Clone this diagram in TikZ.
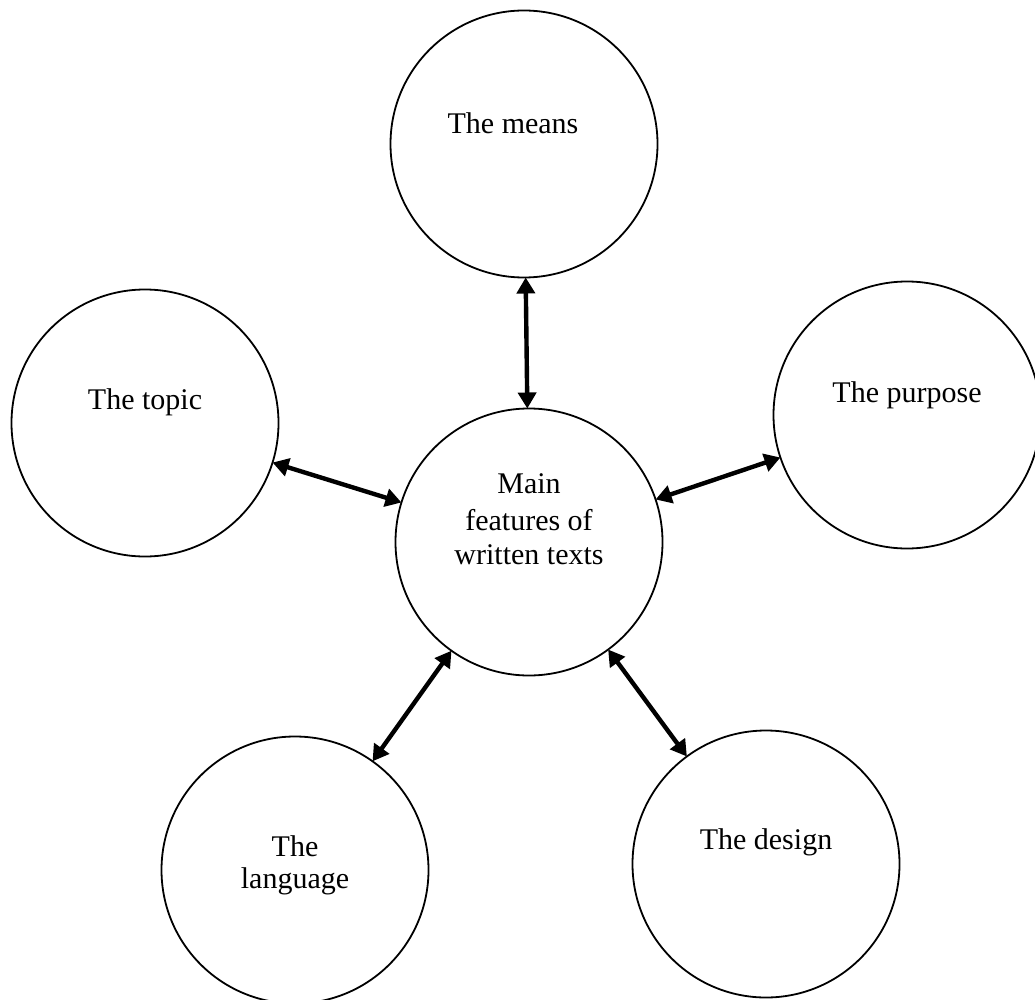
\documentclass[tikz,border=0pt]{standalone}
\usepackage{fontspec}
\setmainfont{Liberation Serif}
\usetikzlibrary{arrows.meta}
\begin{document}
\begin{tikzpicture}[x=1pt,y=-1pt,
  bub/.style={circle,draw,line width=1.8pt,minimum size=267pt,inner sep=0pt,outer sep=0pt},
  lbl/.style={font=\fontsize{30}{35.5}\selectfont,anchor=base,inner sep=0pt},
  link/.style={line width=4.4pt,{Triangle[length=16pt,width=18pt]}-{Triangle[length=16pt,width=18pt]}}]
\useasboundingbox (0,0) rectangle (1035,1000);
\node[bub,label={[lbl,yshift=21pt,xshift=-11pt]center:The means}] (means) at (524,144) {};
\node[bub,label={[lbl,yshift=21pt]center:The topic}] (topic) at (145,423) {};
\node[bub,label={[lbl,yshift=20pt]center:The purpose}] (purpose) at (907,415) {};
\node[bub,
  label={[lbl,yshift=58pt]center:Main},
  label={[lbl,yshift=22pt]center:features of},
  label={[lbl,yshift=-13pt]center:written texts}] (main) at (529,542) {};
\node[bub,
  label={[lbl,yshift=24pt]center:The},
  label={[lbl,yshift=-11pt]center:language}] (language) at (295,870) {};
\node[bub,label={[lbl,yshift=22pt]center:The design}] (design) at (766,864) {};
\draw[link] (means) -- (main);
\draw[link] (topic) -- (main);
\draw[link] (purpose) -- (main);
\draw[link] (language) -- (main);
\draw[link] (design) -- (main);
\end{tikzpicture}
\end{document}
